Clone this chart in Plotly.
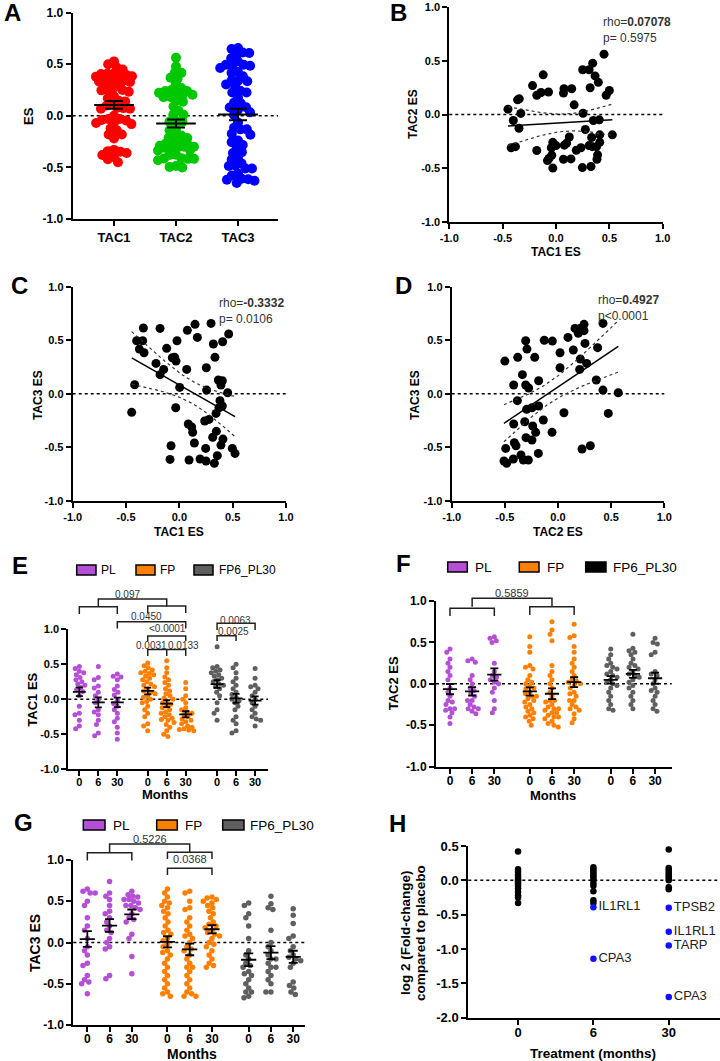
import numpy as np
import plotly.graph_objects as go

W, H = 720, 1061
FONT = "Liberation Sans, Arial, Helvetica, sans-serif"

# ---------------- data ----------------
# Panel B: TAC1 ES (x) vs TAC2 ES (y)
b_tac1 = [0.45, 0.344, 0.31, 0.25, -0.12, 0.366, 0.397, -0.22, 0.32, 0.075, 0.147, 0.50, 0.47, -0.07,
          -0.14, -0.18, 0.07, -0.344, -0.36, 0.17, -0.45, 0.253, -0.33, -0.40, -0.347, 0.35, 0.406, 0.275,
          0.528, 0.41, 0.334, 0.41, 0.125, 0.10, -0.03, 0.0, 0.34, 0.38, -0.38, -0.42, -0.044, 0.234, 0.19,
          -0.18, 0.078, 0.31, 0.39, -0.04, -0.066, 0.384, 0.07, 0.14, -0.08, 0.328, 0.247, -0.03]
b_tac2 = [0.563, 0.479, 0.417, 0.417, 0.37, 0.36, 0.30, 0.27, 0.25, 0.24, 0.24, 0.224, 0.18, 0.21,
          0.205, 0.18, 0.20, 0.146, 0.137, 0.09, 0.05, 0.012, 0.01, -0.056, -0.128, -0.056, -0.05, -0.14,
          -0.19, -0.19, -0.215, -0.26, -0.21, -0.267, -0.26, -0.29, -0.30, -0.30, -0.30, -0.31, -0.31, -0.31,
          -0.333, -0.336, -0.286, -0.29, -0.376, -0.38, -0.41, -0.417, -0.417, -0.414, -0.43, -0.485, -0.495, -0.50]
# Panel C: TAC1 ES (x) vs TAC3 ES (y)
c_tac1 = [-0.3375, -0.181, 0.147, 0.297, 0.075, 0.169, 0.4625, 0.406, 0.319, -0.40, -0.344, -0.022, -0.375,
          -0.331, -0.119, 0.334, -0.066, -0.031, -0.044, -0.219, -0.147, 0.069, 0.253, -0.181, 0.366, 0.403,
          0.39, -0.419, 0.003, 0.256, 0.453, 0.381, -0.034, 0.403, 0.372, 0.344, -0.447, 0.278, 0.2375, 0.084,
          0.116, 0.125, 0.347, 0.3125, 0.409, 0.39, 0.141, -0.078, 0.247, 0.497, 0.522, 0.356, -0.0875, 0.091,
          0.194, 0.25, 0.328]
c_tac3 = [0.614, 0.61, 0.648, 0.657, 0.592, 0.526, 0.558, 0.486, 0.464, 0.495, 0.495, 0.495, 0.417, 0.383,
          0.424, 0.34, 0.336, 0.305, 0.34, 0.283, 0.227, 0.227, 0.243, 0.178, 0.128, 0.121, 0.081, 0.084, 0.059,
          0.034, 0.009, -0.065, -0.131, -0.115, -0.131, -0.184, -0.174, -0.24, -0.255, -0.283, -0.311, -0.361,
          -0.352, -0.408, -0.424, -0.48, -0.461, -0.486, -0.511, -0.511, -0.558, -0.579, -0.614, -0.62, -0.61,
          -0.629, -0.651]
# Panel D: TAC2 ES (x) vs TAC3 ES (y)
d_tac2 = [0.423, 0.245, 0.16, 0.207, 0.245, 0.191, 0.094, 0.254, -0.304, -0.129, -0.053, 0.144, -0.292, 0.019,
          0.373, -0.379, -0.219, 0.21, 0.27, -0.5, 0.019, 0.204, -0.335, 0.36, -0.182, -0.417, -0.304, -0.276,
          0.423, 0.567, -0.382, -0.182, -0.295, -0.245, 0.056, 0.473, -0.138, -0.313, -0.417, -0.238, -0.21,
          -0.056, -0.301, -0.245, -0.411, -0.395, -0.492, 0.226, 0.304, -0.185, -0.348, -0.42, -0.326, -0.279,
          -0.508, -0.483]
d_tac3 = [0.657, 0.648, 0.61, 0.61, 0.589, 0.564, 0.526, 0.47, 0.495, 0.5, 0.492, 0.408, 0.417, 0.383, 0.43,
          0.34, 0.34, 0.324, 0.283, 0.305, 0.243, 0.227, 0.178, 0.128, 0.121, 0.081, 0.081, 0.053, 0.034, 0.009,
          -0.065, -0.115, -0.146, -0.131, -0.178, -0.184, -0.246, -0.262, -0.283, -0.302, -0.361, -0.361, -0.411,
          -0.433, -0.458, -0.486, -0.511, -0.517, -0.486, -0.558, -0.573, -0.61, -0.62, -0.62, -0.629, -0.651]

rho_text = {"B": ("0.07078", "p= 0.5975"), "C": ("-0.3332", "p= 0.0106"), "D": ("0.4927", "p<0.0001")}

# Panel A
a_categories = ["TAC1", "TAC2", "TAC3"]
a_colors = ["#FF0000", "#00C800", "#0000FF"]

# Panels E/F/G: groups PL / FP / FP6_PL30 at months 0, 6, 30
month_labels = ["0", "6", "30"]
group_names = ["PL", "FP", "FP6_PL30"]
group_colors = ["#B54FD6", "#FF8000", "#5F5F5F"]

e_pl_0 = [0.47, 0.44, 0.40, 0.38, 0.35, 0.31, 0.28, 0.25, 0.22, 0.20, 0.17, 0.14, 0.11, 0.05, -0.10, -0.20, -0.22, -0.30, -0.38, -0.42]
e_pl_6 = [0.47, 0.31, 0.28, 0.19, 0.16, 0.10, 0.05, 0.0, -0.05, -0.15, -0.18, -0.22, -0.30, -0.36, -0.48, -0.52]
e_pl_30 = [0.36, 0.33, 0.32, 0.28, 0.19, 0.14, 0.10, 0.06, -0.02, -0.06, -0.10, -0.15, -0.20, -0.27, -0.32, -0.40, -0.48, -0.57]
e_fp_0 = [0.52, 0.48, 0.45, 0.42, 0.40, 0.38, 0.37, 0.35, 0.33, 0.30, 0.28, 0.25, 0.22, 0.20, 0.18, 0.15, 0.12, 0.10,
          0.08, 0.05, 0.03, 0.0, -0.03, -0.05, -0.10, -0.15, -0.20, -0.25, -0.35, -0.38, -0.45]
e_fp_6 = [0.55, 0.45, 0.38, 0.32, 0.28, 0.24, 0.20, 0.15, 0.12, 0.08, 0.05, 0.02, 0.0, -0.03, -0.05, -0.07, -0.10,
          -0.12, -0.15, -0.18, -0.20, -0.22, -0.25, -0.27, -0.29, -0.30, -0.33, -0.36, -0.40, -0.45, -0.50, -0.53]
e_fp_30 = [0.24, 0.15, 0.05, 0.0, -0.05, -0.12, -0.15, -0.18, -0.20, -0.22, -0.25, -0.28, -0.30, -0.32, -0.35, -0.38,
           -0.40, -0.42, -0.43, -0.44, -0.45]
e_mix_0 = [0.75, 0.47, 0.45, 0.42, 0.40, 0.38, 0.35, 0.33, 0.30, 0.28, 0.25, 0.22, 0.20, 0.18, 0.15, 0.10, 0.05,
           -0.05, -0.15, -0.20, -0.30]
e_mix_6 = [0.50, 0.45, 0.38, 0.30, 0.25, 0.20, 0.15, 0.10, 0.07, 0.03, 0.0, -0.02, -0.05, -0.10, -0.15, -0.25, -0.30,
           -0.35, -0.45, -0.48]
e_mix_30 = [0.44, 0.30, 0.20, 0.18, 0.15, 0.10, 0.05, 0.0, -0.05, -0.10, -0.15, -0.20, -0.25, -0.28, -0.30, -0.38]

f_pl_0 = [0.42, 0.38, 0.30, 0.25, 0.20, 0.15, 0.10, 0.05, -0.05, -0.10, -0.15, -0.20, -0.22, -0.25, -0.30, -0.30,
          -0.32, -0.35, -0.40, -0.48]
f_pl_6 = [0.30, 0.28, 0.26, 0.10, 0.05, 0.0, -0.05, -0.08, -0.12, -0.15, -0.20, -0.20, -0.25, -0.28, -0.30, -0.30,
          -0.33, -0.36]
f_pl_30 = [0.57, 0.55, 0.52, 0.50, 0.25, 0.15, 0.10, 0.08, 0.05, 0.02, 0.0, -0.05, -0.10, -0.20, -0.30, -0.35]
f_fp_0 = [0.57, 0.45, 0.38, 0.22, 0.20, 0.18, 0.10, 0.05, 0.02, 0.0, -0.03, -0.05, -0.06, -0.10, -0.12, -0.15, -0.15,
          -0.18, -0.20, -0.22, -0.25, -0.28, -0.30, -0.33, -0.35, -0.38, -0.40, -0.42, -0.45, -0.50]
f_fp_6 = [0.75, 0.65, 0.60, 0.52, 0.22, 0.15, 0.10, 0.05, 0.0, -0.05, -0.10, -0.15, -0.20, -0.20, -0.22, -0.25,
          -0.28, -0.30, -0.30, -0.32, -0.35, -0.35, -0.38, -0.40, -0.40, -0.42, -0.45, -0.48, -0.50, -0.52]
f_fp_30 = [0.72, 0.58, 0.56, 0.45, 0.38, 0.30, 0.25, 0.20, 0.15, 0.10, 0.05, 0.03, 0.02, 0.0, -0.02, -0.05, -0.10,
           -0.12, -0.15, -0.20, -0.20, -0.25, -0.28, -0.30, -0.32, -0.36, -0.42, -0.47]
f_mix_0 = [0.42, 0.35, 0.30, 0.25, 0.22, 0.20, 0.18, 0.15, 0.12, 0.10, 0.08, 0.05, 0.02, 0.0, -0.02, -0.05, -0.10,
           -0.15, -0.20, -0.25, -0.30, -0.32]
f_mix_6 = [0.60, 0.43, 0.40, 0.38, 0.35, 0.30, 0.25, 0.22, 0.20, 0.18, 0.15, 0.12, 0.10, 0.08, 0.05, 0.02, -0.02,
           -0.05, -0.10, -0.15, -0.20, -0.25, -0.30]
f_mix_30 = [0.55, 0.50, 0.48, 0.38, 0.35, 0.15, 0.12, 0.10, 0.05, 0.0, -0.05, -0.08, -0.10, -0.15, -0.20, -0.25,
            -0.30, -0.33]

g_pl_0 = [0.65, 0.62, 0.60, 0.60, 0.50, 0.45, 0.30, 0.20, 0.15, 0.05, -0.05, -0.10, -0.15, -0.25, -0.28, -0.40,
          -0.45, -0.48, -0.50, -0.62]
g_pl_6 = [0.74, 0.60, 0.56, 0.52, 0.45, 0.38, 0.35, 0.30, 0.25, 0.20, 0.15, 0.12, 0.05, 0.0, -0.05, -0.08, -0.40, -0.44]
g_pl_30 = [0.62, 0.58, 0.56, 0.55, 0.52, 0.52, 0.50, 0.48, 0.45, 0.45, 0.42, 0.40, 0.35, 0.30, 0.28, 0.25, 0.10,
           0.05, -0.17, -0.38]
g_fp_0 = [0.65, 0.60, 0.55, 0.50, 0.48, 0.45, 0.42, 0.38, 0.35, 0.30, 0.25, 0.20, 0.15, 0.12, 0.10, 0.05, 0.02,
          -0.02, -0.05, -0.10, -0.12, -0.15, -0.20, -0.25, -0.30, -0.35, -0.40, -0.45, -0.50, -0.55, -0.60, -0.62, -0.65]
g_fp_6 = [0.62, 0.60, 0.50, 0.42, 0.40, 0.30, 0.25, 0.20, 0.15, 0.10, 0.08, 0.05, 0.0, -0.05, -0.08, -0.10, -0.15,
          -0.20, -0.25, -0.30, -0.30, -0.35, -0.40, -0.45, -0.50, -0.55, -0.60, -0.62, -0.65, -0.65]
g_fp_30 = [0.55, 0.54, 0.52, 0.50, 0.48, 0.45, 0.42, 0.38, 0.35, 0.30, 0.25, 0.22, 0.20, 0.18, 0.15, 0.12, 0.10,
           0.08, 0.05, 0.0, -0.02, -0.05, -0.10, -0.15, -0.20, -0.25, -0.28, -0.30]
g_mix_0 = [0.48, 0.45, 0.35, 0.30, 0.20, 0.05, -0.10, -0.15, -0.20, -0.25, -0.28, -0.30, -0.35, -0.38, -0.40, -0.45,
           -0.50, -0.55, -0.60, -0.60, -0.65, -0.67]
g_mix_6 = [0.56, 0.47, 0.42, 0.40, 0.15, 0.0, -0.05, -0.10, -0.15, -0.20, -0.20, -0.25, -0.30, -0.30, -0.35, -0.40,
           -0.45, -0.50, -0.60, -0.60]
g_mix_30 = [0.41, 0.33, 0.23, 0.08, 0.05, -0.05, -0.10, -0.15, -0.18, -0.20, -0.22, -0.25, -0.30, -0.48, -0.52,
            -0.55, -0.60, -0.63]

# Panel H: log2 fold change vs placebo
h_months = ["0", "6", "30"]
h_m0 = [0.42, 0.16, 0.12, 0.08, 0.05, 0.02, 0.0, -0.02, -0.05, -0.08, -0.12, -0.17, -0.22, -0.25, -0.33]
h_m6 = [0.19, 0.16, 0.13, 0.10, 0.07, 0.04, 0.01, -0.04, -0.08, -0.16, -0.29, -0.33]
h_m30 = [0.45, 0.18, 0.15, 0.12, 0.09, 0.06, 0.03, 0.0, -0.10, -0.13]
h_hl_month = ["6", "6", "30", "30", "30", "30"]
h_hl_vals = [-0.39, -1.14, -0.40, -0.75, -0.95, -1.70]
h_hl_genes = ["IL1RL1", "CPA3", "TPSB2", "IL1RL1", "TARP", "CPA3"]

# ---------------- helpers ----------------
fig = go.Figure()
layout = dict(width=W, height=H, autosize=False, margin=dict(l=0, r=0, t=0, b=0, pad=0, autoexpand=False),
              paper_bgcolor="white", plot_bgcolor="white", showlegend=False,
              font=dict(family=FONT, color="black"))
shapes, annotations = [], []


def PX(p):
    return p / W


def PY(p):
    return 1 - p / H


AXC = dict(showline=True, linecolor="black", linewidth=2, showgrid=False, zeroline=False, ticks="outside",
           ticklen=5, tickwidth=2, tickcolor="black", fixedrange=True, tickmode="array", automargin=False)

ES_TICKS = ([-1, -0.5, 0, 0.5, 1], ["-1.0", "-0.5", "0.0", "0.5", "1.0"])


def make_axes(n, xpx, ypx, xrange, yrange, xticks, yticks, xfs, yfs, xstand=0):
    xa = "xaxis" if n == 1 else f"xaxis{n}"
    ya = "yaxis" if n == 1 else f"yaxis{n}"
    xr = "x" if n == 1 else f"x{n}"
    yr = "y" if n == 1 else f"y{n}"
    layout[xa] = dict(AXC, domain=[PX(xpx[0]), PX(xpx[1])], range=xrange, anchor=yr,
                      tickvals=xticks[0], ticktext=xticks[1], ticklabelstandoff=xstand,
                      tickfont=dict(family=FONT, size=xfs, color="black", weight="bold"))
    layout[ya] = dict(AXC, domain=[PY(ypx[1]), PY(ypx[0])], range=yrange, anchor=xr,
                      tickvals=yticks[0], ticktext=yticks[1],
                      tickfont=dict(family=FONT, size=yfs, color="black", weight="bold"))
    shapes.append(dict(type="line", xref=f"{xr} domain", yref=yr, x0=0, x1=1, y0=0, y1=0,
                       line=dict(color="black", width=1.5, dash="dot"), layer="below"))
    return xr, yr


def text(xp, yp, s, size, bold=False, xanchor="center", angle=0, color="black"):
    annotations.append(dict(x=PX(xp), y=PY(yp), xref="paper", yref="paper", text=s, showarrow=False,
                            xanchor=xanchor, yanchor="middle", textangle=angle,
                            font=dict(family=FONT, size=size, color=color, weight="bold" if bold else "normal")))


def swarm(values, ypu, dpx, maxw):
    """Beeswarm offsets in pixels, limited to +/- maxw."""
    v = np.asarray(values, float)
    y = v * ypu
    xs = np.zeros(len(v))
    placed = []
    grid = np.linspace(-maxw, maxw, int(4 * maxw) + 1)
    for i in np.argsort(-v, kind="stable"):
        forb = []
        for j in placed:
            dy = abs(y[i] - y[j])
            if dy < dpx:
                dx = np.sqrt(dpx ** 2 - dy ** 2)
                forb.append((xs[j] - dx, xs[j] + dx))
        cands = sorted([0.0] + [a for a, b in forb] + [b for a, b in forb], key=lambda c: (abs(c), c))
        chosen = None
        for c in cands:
            if abs(c) <= maxw + 1e-6 and all(not (a + 1e-6 < c < b - 1e-6) for a, b in forb):
                chosen = c
                break
        if chosen is None:
            px_ = np.array([xs[j] for j in placed])
            py_ = np.array([y[j] for j in placed])
            dmin = np.array([np.min(np.hypot(g - px_, y[i] - py_)) for g in grid])
            best = np.max(dmin)
            ok = grid[dmin >= best - 1e-6]
            chosen = ok[np.argmin(np.abs(ok))]
        xs[i] = chosen
        placed.append(i)
    return xs


def mean_sem(xr, yr, pos, vals, hw, cap, lw=2):
    v = np.asarray(vals, float)
    m = v.mean()
    s = v.std(ddof=1) / np.sqrt(len(v))
    fig.add_trace(go.Scatter(x=[pos - hw, pos + hw], y=[m, m], mode="lines", xaxis=xr, yaxis=yr,
                             line=dict(color="black", width=lw), hoverinfo="skip"))
    fig.add_trace(go.Scatter(x=[pos], y=[m], mode="markers", xaxis=xr, yaxis=yr,
                             marker=dict(size=1, color="rgba(0,0,0,0)"),
                             error_y=dict(type="data", array=[s], width=cap, thickness=lw, color="black"),
                             hoverinfo="skip"))


def bracket(xr, xs, ytop, yfoot):
    path = f"M {xs[0]},{PY(yfoot)} L {xs[0]},{PY(ytop)} L {xs[-1]},{PY(ytop)} L {xs[-1]},{PY(yfoot)}"
    for xm in xs[1:-1]:
        path += f" M {xm},{PY(ytop)} L {xm},{PY(yfoot)}"
    shapes.append(dict(type="path", xref=xr, yref="paper", path=path, line=dict(color="#202020", width=1.5)))


def btext(xr, x, yp, s, size):
    annotations.append(dict(x=x, y=PY(yp), xref=xr, yref="paper", text=s, showarrow=False, xanchor="center",
                            yanchor="middle", font=dict(family=FONT, size=size, color="#333333")))


# ---------------- Panel A ----------------
xr, yr = make_axes(1, (72.7, 278), (12.7, 219), [-0.666, 2.645], [-1, 1],
                   ([0, 1, 2], a_categories), ES_TICKS, 13, 12)
a_values = [b_tac1, b_tac2, c_tac3]
for k, (vals, col) in enumerate(zip(a_values, a_colors)):
    off = swarm(vals, 103.2, 6.5, 18) / 62.0
    fig.add_trace(go.Scatter(x=k + off, y=vals, mode="markers", xaxis=xr, yaxis=yr,
                             marker=dict(size=10, color=col, line=dict(width=0))))
for k, vals in enumerate(a_values):
    mean_sem(xr, yr, k, vals, 0.32, 9, 2)
text(28, 116, "ES", 13, bold=True, angle=-90)
text(2, 13, "A", 24, bold=True, xanchor="left")


# ---------------- Panels B, C, D ----------------
def corr_panel(n, xpx, ypx, xv, yv, key, xtitle, ytitle, xt_pos, yt_pos, rho_pos, letter, letter_pos):
    xr, yr = make_axes(n, xpx, ypx, [-1, 1], [-1, 1], ES_TICKS, ES_TICKS, 11, 11)
    x = np.asarray(xv, float)
    y = np.asarray(yv, float)
    fig.add_trace(go.Scatter(x=x, y=y, mode="markers", xaxis=xr, yaxis=yr,
                             marker=dict(size=9, color="black", line=dict(width=0))))
    slope, icpt = np.polyfit(x, y, 1)
    xx = np.linspace(x.min(), x.max(), 60)
    nn = len(x)
    resid = y - (slope * x + icpt)
    s = np.sqrt((resid ** 2).sum() / (nn - 2))
    sxx = ((x - x.mean()) ** 2).sum()
    se = s * np.sqrt(1.0 / nn + (xx - x.mean()) ** 2 / sxx)
    t = 2.005
    yy = slope * xx + icpt
    fig.add_trace(go.Scatter(x=xx, y=yy, mode="lines", xaxis=xr, yaxis=yr, line=dict(color="black", width=1.5)))
    for sign in (1, -1):
        fig.add_trace(go.Scatter(x=xx, y=yy + sign * t * se, mode="lines", xaxis=xr, yaxis=yr,
                                 line=dict(color="#333333", width=1.2, dash="dot")))
    rho_v, p_s = rho_text[key]
    annotations.append(dict(x=PX(rho_pos[0]), y=PY(rho_pos[1]), xref="paper", yref="paper",
                            text=f"rho=<b>{rho_v}</b><br>{p_s}", showarrow=False, xanchor="left",
                            yanchor="top", align="left",
                            font=dict(family=FONT, size=12, color="#333333")))
    text(xt_pos[0], xt_pos[1], xtitle, 12, bold=True)
    text(yt_pos[0], yt_pos[1], ytitle, 12, bold=True, angle=-90)
    text(letter_pos[0], letter_pos[1], letter, 24, bold=True, xanchor="left")


corr_panel(2, (449.3, 662.7), (7.3, 221.7), b_tac1, b_tac2, "B", "TAC1 ES", "TAC2 ES",
           (556, 252), (413, 114), (601, 13), "B", (388, 12))
corr_panel(3, (72.7, 286), (286.7, 500.7), c_tac1, c_tac3, "C", "TAC1 ES", "TAC3 ES",
           (179, 532), (38, 395), (217, 294), "C", (9, 285))
corr_panel(4, (451.7, 664.3), (286.7, 500.7), d_tac2, d_tac3, "D", "TAC2 ES", "TAC3 ES",
           (558, 532), (415, 395), (596, 291), "D", (393, 285))

# ---------------- Panels E, F, G ----------------
POS = [0, 1, 2, 3.6, 4.6, 5.6, 7.25, 8.25, 9.25]
MONTH_TICKS = (POS, month_labels * 3)


def dot_panel(n, xpx, ypx, xrange, groups, xpu, ypu, msize, dpx, maxw, hw, cap, fs, xstand=0):
    xr, yr = make_axes(n, xpx, ypx, xrange, [-1, 1], MONTH_TICKS, ES_TICKS, fs, fs, xstand)
    for k, (pos, vals) in enumerate(zip(POS, groups)):
        off = swarm(vals, ypu, dpx, maxw) / xpu
        fig.add_trace(go.Scatter(x=pos + off, y=vals, mode="markers", xaxis=xr, yaxis=yr,
                                 marker=dict(size=msize, color=group_colors[k // 3], line=dict(width=0))))
    for pos, vals in zip(POS, groups):
        mean_sem(xr, yr, pos, vals, hw, cap, 1.8)
    return xr, yr


def legend(xs_sq, ytop, ybot, xs_txt, size, colors):
    for (x0, x1), tx, name, col in zip(xs_sq, xs_txt, group_names, colors):
        shapes.append(dict(type="rect", xref="paper", yref="paper", x0=PX(x0), x1=PX(x1), y0=PY(ybot),
                           y1=PY(ytop), fillcolor=col, line=dict(color="black", width=1.5)))
        text(tx, (ytop + ybot) / 2, name, size, xanchor="left")


# E
xr, yr = dot_panel(5, (68.3, 268), (629.3, 769.3), [-0.58, 9.93],
                   [e_pl_0, e_pl_6, e_pl_30, e_fp_0, e_fp_6, e_fp_30, e_mix_0, e_mix_6, e_mix_30],
                   19.0, 70.0, 5, 4.6, 8, 0.34, 3.5, 11, -4)
legend([(76.7, 96), (136, 155), (194, 213)], 565, 575, [99, 158, 217], 12, group_colors)
bracket(xr, [0, 2], 606.7, 614)
bracket(xr, [3.6, 5.6], 606, 613)
bracket(xr, [1, 4.6], 599, 606.5)
btext(xr, 2.55, 594, "0.097", 10)
bracket(xr, [2, 5.6], 621.7, 628.5)
btext(xr, 3.55, 616, "0.0450", 10)
bracket(xr, [3.6, 5.6], 636, 641)
btext(xr, 4.65, 628.5, "&lt;0.0001", 10)
bracket(xr, [3.6, 4.6, 5.6], 649.5, 656)
btext(xr, 3.8, 645.3, "0.0031", 10)
btext(xr, 5.5, 645.3, "0.0133", 10)
bracket(xr, [7.25, 9.25], 623.3, 630)
btext(xr, 8.2, 620, "0.0063", 10)
bracket(xr, [7.25, 8.25], 635.7, 641)
btext(xr, 8.1, 631.7, "0.0025", 10)
text(31.7, 700, "TAC1 ES", 13, bold=True, angle=-90)
text(165, 794, "Months", 13, bold=True)
text(10, 565, "E", 24, bold=True, xanchor="left")

# F
xr, yr = dot_panel(6, (436, 671.7), (601, 766.7), [-0.63, 10.0],
                   [f_pl_0, f_pl_6, f_pl_30, f_fp_0, f_fp_6, f_fp_30, f_mix_0, f_mix_6, f_mix_30],
                   22.16, 82.9, 5, 4.6, 9, 0.32, 4, 12, -3)
legend([(447.7, 467.3), (519.3, 539), (585.7, 606)], 562, 572, [473.3, 545, 610.7], 13.5,
       ["#B54FD6", "#FF8000", "#000000"])
bracket(xr, [0, 2], 608.3, 616)
bracket(xr, [3.6, 5.6], 606.7, 615)
bracket(xr, [1, 4.6], 598.3, 606.7)
btext(xr, 2.8, 592.7, "0.5859", 11)
text(393.3, 683, "TAC2 ES", 13, bold=True, angle=-90)
text(553.3, 795, "Months", 13, bold=True)
text(394, 563, "F", 24, bold=True, xanchor="left")

# G
xr, yr = dot_panel(7, (73.3, 305), (860, 1025), [-0.63, 9.78],
                   [g_pl_0, g_pl_6, g_pl_30, g_fp_0, g_fp_6, g_fp_30, g_mix_0, g_mix_6, g_mix_30],
                   22.27, 82.5, 5.5, 5.0, 9, 0.34, 4.5, 12, -3)
legend([(83.3, 105), (156.7, 177.3), (222.7, 244)], 820, 830, [111, 182.7, 248.3], 13.5, group_colors)
bracket(xr, [0, 2], 852.7, 860.5)
bracket(xr, [3.6, 5.6], 852.3, 859)
bracket(xr, [1, 4.6], 844, 852.3)
btext(xr, 2.8, 839, "0.5226", 11)
bracket(xr, [3.6, 5.6], 868.3, 875)
btext(xr, 4.6, 859, "0.0368", 11)
text(35, 943, "TAC3 ES", 14, bold=True, angle=-90)
text(191.7, 1054, "Months", 14, bold=True)
text(12, 822, "G", 24, bold=True, xanchor="left")

# ---------------- Panel H ----------------
xr, yr = make_axes(8, (468.3, 720), (846, 1017.7), [-0.66, 2.68], [-2.0, 0.5],
                   ([0, 1, 2], h_months), ([0.5, 0, -0.5, -1.0, -1.5, -2.0], ["0.5", "0.0", "-0.5", "-1.0", "-1.5", "-2.0"]),
                   13, 13, -3)
for k, vals in enumerate([h_m0, h_m6, h_m30]):
    fig.add_trace(go.Scatter(x=[k] * len(vals), y=vals, mode="markers", xaxis=xr, yaxis=yr,
                             marker=dict(size=6.5, color="black", line=dict(width=0))))
hx = [h_months.index(m) for m in h_hl_month]
fig.add_trace(go.Scatter(x=hx, y=h_hl_vals, mode="markers+text", text=h_hl_genes, textposition="middle right",
                         xaxis=xr, yaxis=yr, cliponaxis=False,
                         marker=dict(size=6.5, color="#1010FF", line=dict(width=0)),
                         textfont=dict(family=FONT, size=13, color="#222222")))
text(405, 933, "log 2 (Fold-change)", 13.5, bold=True, angle=-90)
text(420, 933, "compared to placebo", 13.5, bold=True, angle=-90)
text(593.3, 1053.5, "Treatment (months)", 13.5, bold=True)
text(387, 823, "H", 24, bold=True, xanchor="left")

layout["shapes"] = shapes
layout["annotations"] = annotations
fig.update_layout(**layout)
fig.write_html("out.html", config={"displayModeBar": False, "staticPlot": True},
               post_script="document.documentElement.style.margin='0';document.body.style.margin='0';"
                           "document.body.style.overflow='hidden';")
